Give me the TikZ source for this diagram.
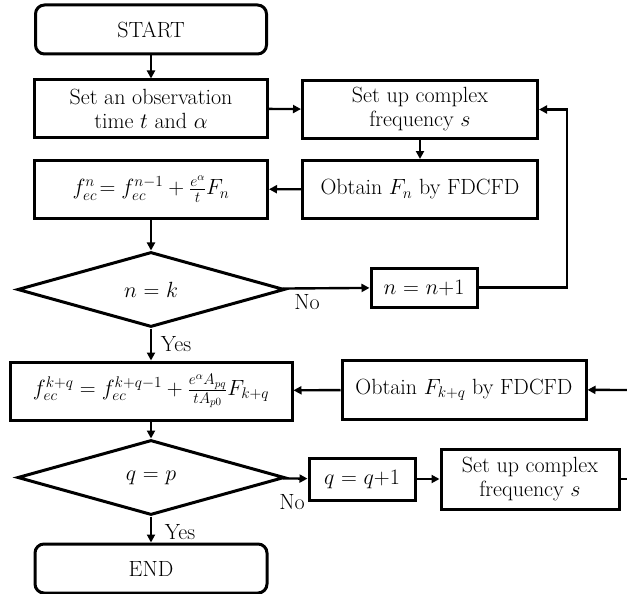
\RequirePackage{fix-cm}
\documentclass[tikz,border=0pt]{standalone}
\usepackage{fontspec}
\usetikzlibrary{shapes.geometric,arrows.meta}
\begin{document}
\begin{tikzpicture}[x=1pt,y=-1pt,
  every node/.style={font=\fontsize{22}{24}\selectfont},
  box/.style={draw,line width=3pt,inner sep=0pt,align=center},
  term/.style={box,rounded corners=9pt},
  dec/.style={draw,diamond,line width=3pt,inner sep=0pt,aspect=3.56,minimum width=267pt,minimum height=75pt},
  arr/.style={line width=2.4pt,-{Triangle[length=8pt,width=8pt]}},
  ln/.style={line width=2.4pt},
  lbl/.style={inner sep=0pt}]
\useasboundingbox (0,0) rectangle (627,594);
\node[term,minimum width=231pt,minimum height=49pt] (start) at (151,29.5) {START};
\node[box,minimum width=233pt,minimum height=57pt] (obs) at (151,108.5) {Set an observation\\time $t$ and $\alpha$};
\node[box,minimum width=235pt,minimum height=58pt] (setup) at (420,109.5) {Set up complex\\frequency $s$};
\node[box,minimum width=235pt,minimum height=58pt] (obtain) at (420,189.5) {Obtain $F_n$ by FDCFD};
\node[box,minimum width=233pt,minimum height=58pt] (fn) at (151,189) {$f_{ec}^{n}\!= f_{ec}^{n-1}+\frac{e^{\alpha}}{t}F_n$};
\node[dec] (d1) at (151,289.5) {$n$ = $k$};
\node[box,minimum width=106pt,minimum height=39pt] (n1) at (424,287.5) {$n$ = $n$+1};
\node[box,minimum width=282pt,minimum height=58pt] (fk) at (151,391) {$f_{ec}^{k+q}=f_{ec}^{k+q-1}+\frac{e^{\alpha}A_{pq}}{tA_{p0}}F_{k+q}$};
\node[box,minimum width=244pt,minimum height=59pt] (obtk) at (464,389.5) {Obtain $F_{k+q}$ by FDCFD};
\node[dec] (d2) at (151,477.5) {$q$ = $p$};
\node[box,minimum width=106pt,minimum height=42pt] (q1) at (362,479) {$q$ = $q$+1};
\node[box,minimum width=178pt,minimum height=60pt] (setup2) at (530,479) {Set up complex\\frequency $s$};
\node[term,minimum width=232pt,minimum height=49pt] (end) at (151,568.5) {END};
\coordinate (c1) at (567,287.5);
\coordinate (c2) at (567,109.5);
\coordinate (r1) at (627,390);
\coordinate (r2) at (627,479);
\draw[arr] (start) -- (obs);
\draw[arr] (obs) -- (setup);
\draw[arr] (setup) -- (obtain);
\draw[arr] (obtain) -- (fn);
\draw[arr] (fn) -- (d1);
\draw[arr] (d1) -- (n1);
\draw[arr] (n1.east) -- (c1) -- (c2) -- (setup.east);
\draw[arr] (d1) -- (fk);
\draw[arr] (obtk) -- (fk);
\draw[arr] (r1) -- (obtk);
\draw[arr] (fk) -- (d2);
\draw[arr] (d2) -- (q1);
\draw[arr] (q1) -- (setup2);
\draw[ln] (setup2.east) -- (r2);
\draw[arr] (d2) -- (end);
\node[lbl] (no1) at (307,302) {No};
\node[lbl] (yes1) at (176,344) {Yes};
\node[lbl] (no2) at (292,502) {No};
\node[lbl] (yes2) at (180,532) {Yes};
\end{tikzpicture}
\end{document}
